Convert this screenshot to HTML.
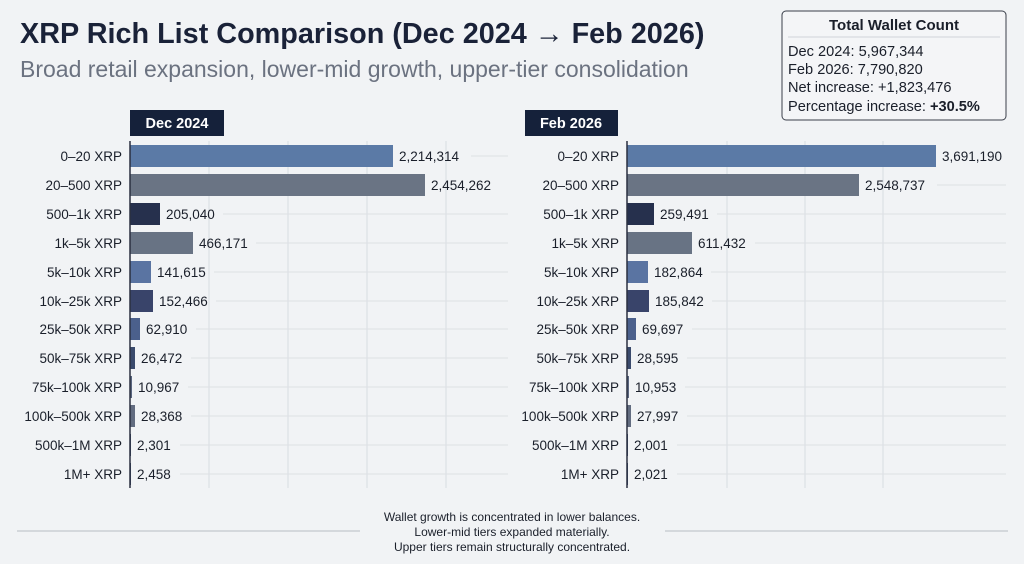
<!DOCTYPE html>
<html><head><meta charset="utf-8"><style>
body{margin:0;width:1024px;height:559px;background:#f1f3f5;font-family:"Liberation Sans",sans-serif;overflow:hidden}
</style></head><body>
<svg width="1024" height="559" xmlns="http://www.w3.org/2000/svg" font-family="Liberation Sans, sans-serif">
<text x="20" y="43" font-size="28.8" font-weight="bold" fill="#1a2238">XRP Rich List Comparison (Dec 2024 → Feb 2026)</text>
<text x="20" y="77" font-size="23" fill="#6b7280">Broad retail expansion, lower-mid growth, upper-tier consolidation</text>
<rect x="782" y="11" width="224" height="109" rx="4" fill="#f4f5f7" stroke="#3a3f4a" stroke-width="1"/>
<text x="894" y="30" font-size="15" font-weight="bold" fill="#1a1f2a" text-anchor="middle">Total Wallet Count</text>
<line x1="788" y1="37" x2="1000" y2="37" stroke="#d0d4da"/>
<g font-size="14.6" fill="#1a1f2a">
<text x="788" y="56">Dec 2024: 5,967,344</text>
<text x="788" y="74">Feb 2026: 7,790,820</text>
<text x="788" y="92">Net increase: +1,823,476</text>
<text x="788" y="111">Percentage increase: <tspan font-weight="bold">+30.5%</tspan></text>
</g>
<rect x="130" y="110" width="94" height="26" fill="#15213a"/>
<text x="177" y="128" font-size="14.5" font-weight="bold" fill="#fff" text-anchor="middle">Dec 2024</text>
<rect x="525" y="110" width="93" height="26" fill="#15213a"/>
<text x="571" y="128" font-size="14.5" font-weight="bold" fill="#fff" text-anchor="middle">Feb 2026</text>
<g stroke="#d8dce1" stroke-width="1">
<line x1="209" y1="141" x2="209" y2="488"/><line x1="288" y1="141" x2="288" y2="488"/><line x1="367" y1="141" x2="367" y2="488"/><line x1="446" y1="141" x2="446" y2="488"/>
<line x1="727" y1="141" x2="727" y2="488"/><line x1="805" y1="141" x2="805" y2="488"/><line x1="883" y1="141" x2="883" y2="488"/>
</g>
<g stroke="#dde0e4" stroke-width="1">
<line x1="471" y1="156" x2="508" y2="156"/>
<line x1="223" y1="214" x2="508" y2="214"/>
<line x1="256" y1="243" x2="508" y2="243"/>
<line x1="214" y1="272" x2="508" y2="272"/>
<line x1="216" y1="301" x2="508" y2="301"/>
<line x1="196" y1="329" x2="508" y2="329"/>
<line x1="191" y1="358" x2="508" y2="358"/>
<line x1="188" y1="387" x2="508" y2="387"/>
<line x1="191" y1="416" x2="508" y2="416"/>
<line x1="180" y1="445" x2="508" y2="445"/>
<line x1="180" y1="474" x2="508" y2="474"/>
<line x1="937" y1="185" x2="1006" y2="185"/>
<line x1="717" y1="214" x2="1006" y2="214"/>
<line x1="755" y1="243" x2="1006" y2="243"/>
<line x1="711" y1="272" x2="1006" y2="272"/>
<line x1="712" y1="301" x2="1006" y2="301"/>
<line x1="692" y1="329" x2="1006" y2="329"/>
<line x1="687" y1="358" x2="1006" y2="358"/>
<line x1="685" y1="387" x2="1006" y2="387"/>
<line x1="687" y1="416" x2="1006" y2="416"/>
<line x1="677" y1="445" x2="1006" y2="445"/>
<line x1="677" y1="474" x2="1006" y2="474"/>
</g>
<g>
<rect x="130" y="145" width="263" height="22" fill="#5b7aa6"/>
<rect x="130" y="174" width="295" height="22" fill="#6a7484"/>
<rect x="130" y="203" width="30" height="22" fill="#26304d"/>
<rect x="130" y="232" width="63" height="22" fill="#687384"/>
<rect x="130" y="261" width="21" height="22" fill="#5a74a2"/>
<rect x="130" y="290" width="23" height="22" fill="#39446a"/>
<rect x="130" y="318" width="10" height="22" fill="#4b608c"/>
<rect x="130" y="347" width="5" height="22" fill="#3a4a6c"/>
<rect x="130" y="376" width="2" height="22" fill="#5a6680"/>
<rect x="130" y="405" width="5" height="22" fill="#626c80"/>
<rect x="130" y="434" width="1" height="22" fill="#3a4a6c"/>
<rect x="130" y="463" width="1" height="22" fill="#3a4a6c"/>
<rect x="627" y="145" width="309" height="22" fill="#5b7aa6"/>
<rect x="627" y="174" width="232" height="22" fill="#6a7484"/>
<rect x="627" y="203" width="27" height="22" fill="#26304d"/>
<rect x="627" y="232" width="65" height="22" fill="#687384"/>
<rect x="627" y="261" width="21" height="22" fill="#5a74a2"/>
<rect x="627" y="290" width="22" height="22" fill="#39446a"/>
<rect x="627" y="318" width="9" height="22" fill="#4b608c"/>
<rect x="627" y="347" width="4" height="22" fill="#3a4a6c"/>
<rect x="627" y="376" width="2" height="22" fill="#5a6680"/>
<rect x="627" y="405" width="4" height="22" fill="#626c80"/>
<rect x="627" y="434" width="1" height="22" fill="#3a4a6c"/>
<rect x="627" y="463" width="1" height="22" fill="#3a4a6c"/>
</g>
<g font-size="13.5" fill="#1a1f2a" text-anchor="end">
<text x="122" y="161">0–20 XRP</text><text x="122" y="190">20–500 XRP</text><text x="122" y="219">500–1k XRP</text><text x="122" y="248">1k–5k XRP</text><text x="122" y="277">5k–10k XRP</text><text x="122" y="306">10k–25k XRP</text><text x="122" y="334">25k–50k XRP</text><text x="122" y="363">50k–75k XRP</text><text x="122" y="392">75k–100k XRP</text><text x="122" y="421">100k–500k XRP</text><text x="122" y="450">500k–1M XRP</text><text x="122" y="479">1M+ XRP</text>
<text x="619" y="161">0–20 XRP</text><text x="619" y="190">20–500 XRP</text><text x="619" y="219">500–1k XRP</text><text x="619" y="248">1k–5k XRP</text><text x="619" y="277">5k–10k XRP</text><text x="619" y="306">10k–25k XRP</text><text x="619" y="334">25k–50k XRP</text><text x="619" y="363">50k–75k XRP</text><text x="619" y="392">75k–100k XRP</text><text x="619" y="421">100k–500k XRP</text><text x="619" y="450">500k–1M XRP</text><text x="619" y="479">1M+ XRP</text>
</g>
<g font-size="13.5" fill="#1a1f2a">
<text x="399" y="161">2,214,314</text><text x="431" y="190">2,454,262</text><text x="166" y="219">205,040</text><text x="199" y="248">466,171</text><text x="157" y="277">141,615</text><text x="159" y="306">152,466</text><text x="146" y="334">62,910</text><text x="141" y="363">26,472</text><text x="138" y="392">10,967</text><text x="141" y="421">28,368</text><text x="137" y="450">2,301</text><text x="137" y="479">2,458</text>
<text x="942" y="161">3,691,190</text><text x="865" y="190">2,548,737</text><text x="660" y="219">259,491</text><text x="698" y="248">611,432</text><text x="654" y="277">182,864</text><text x="655" y="306">185,842</text><text x="642" y="334">69,697</text><text x="637" y="363">28,595</text><text x="635" y="392">10,953</text><text x="637" y="421">27,997</text><text x="634" y="450">2,001</text><text x="634" y="479">2,021</text>
</g>
<line x1="130" y1="141" x2="130" y2="488" stroke="#2a3040" stroke-width="1.5"/>
<line x1="627" y1="141" x2="627" y2="488" stroke="#2a3040" stroke-width="1.5"/>
<line x1="17" y1="531" x2="360" y2="531" stroke="#b8bcc2"/>
<line x1="665" y1="531" x2="1008" y2="531" stroke="#b8bcc2"/>
<g font-size="12" fill="#1a1f2a" text-anchor="middle">
<text x="512" y="521">Wallet growth is concentrated in lower balances.</text>
<text x="512" y="536">Lower-mid tiers expanded materially.</text>
<text x="512" y="551">Upper tiers remain structurally concentrated.</text>
</g>
</svg>
</body></html>
